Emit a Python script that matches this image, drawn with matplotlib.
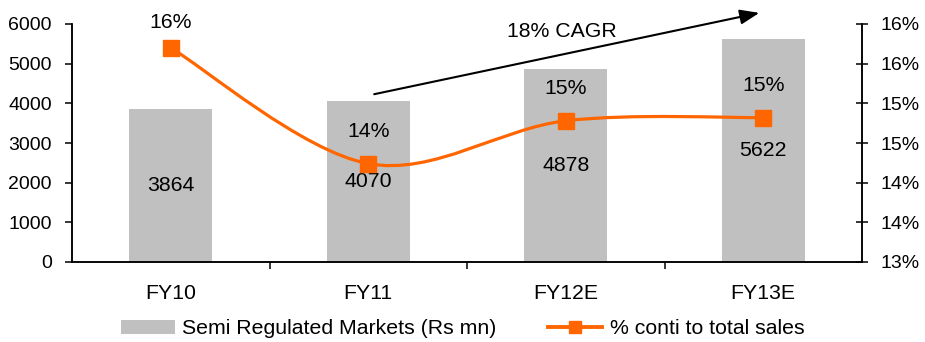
import matplotlib
matplotlib.use("Agg")
import matplotlib.pyplot as plt
from matplotlib.path import Path
from matplotlib.patches import PathPatch, Patch
from matplotlib.lines import Line2D
import numpy as np

plt.rcParams['font.family'] = ['Liberation Sans', 'DejaVu Sans']

categories = ["FY10", "FY11", "FY12E", "FY13E"]
market_values = [3864, 4070, 4878, 5622]
pct_values = [15.70, 14.24, 14.78, 14.82]
pct_labels = ["16%", "14%", "15%", "15%"]
left_ticks = [0, 1000, 2000, 3000, 4000, 5000, 6000]
right_ticks = [13.0, 13.5, 14.0, 14.5, 15.0, 15.5, 16.0]
right_tick_labels = ["13%", "14%", "14%", "15%", "15%", "16%", "16%"]
bar_label = "Semi Regulated Markets (Rs mn)"
line_label = "% conti to total sales"
cagr_text = "18% CAGR"

BAR = "#C0C0C0"
ORANGE = "#FF6600"
FS = 15.3
FS_Y = 14

fig = plt.figure(figsize=(9.25, 3.42), dpi=100)
ax = fig.add_axes([72/925, 1-262/342, (862-72)/925, (262-24)/342])
ax2 = ax.twinx()

x = np.arange(len(categories))
ax.bar(x, market_values, width=0.42, color=BAR, zorder=1)
for xi, v in zip(x, market_values):
    ax.text(xi, v/2, f"{v}", ha='center', va='center', fontsize=FS, color='black')

ax.set_xlim(-0.5, len(categories)-0.5)
ax.set_ylim(0, 6000)
ax.set_yticks(left_ticks)
ax.set_yticklabels([str(t) for t in left_ticks], fontsize=FS_Y)
ax.set_xticks(x)
ax.set_xticklabels(categories, fontsize=FS)
ax.tick_params(axis='x', which='major', length=0, pad=15.5)
ax.set_xticks(np.arange(len(categories)-1) + 0.5, minor=True)
ax.tick_params(axis='x', which='minor', length=5, width=1.1, direction='out')
ax.tick_params(axis='y', length=5, width=1.1, direction='out', pad=9.5)

for a in (ax, ax2):
    a.spines['top'].set_visible(False)
    for s in ('left', 'right', 'bottom'):
        a.spines[s].set_linewidth(1.1)

ax2.set_ylim(13, 16)
ax2.set_yticks(right_ticks)
ax2.set_yticklabels(right_tick_labels, fontsize=FS_Y)
ax2.tick_params(axis='y', length=9, width=1.1, direction='inout', pad=8.5)

# Smoothed line (Catmull-Rom to Bezier) through the data points
P = np.column_stack([x, pct_values]).astype(float)
n = len(P)
verts = [tuple(P[0])]
codes = [Path.MOVETO]
for i in range(n-1):
    p0 = P[i-1] if i > 0 else P[i]
    p1 = P[i]
    p2 = P[i+1]
    p3 = P[i+2] if i+2 < n else P[i+1]
    c1 = p1 + (p2 - p0) / 6.0
    c2 = p2 - (p3 - p1) / 6.0
    verts += [tuple(c1), tuple(c2), tuple(p2)]
    codes += [Path.CURVE4]*3
path = Path(verts, codes)
ax2.add_patch(PathPatch(path, facecolor='none', edgecolor=ORANGE, lw=2.3, zorder=3))
ax2.plot(x, pct_values, linestyle='none', marker='s', markersize=11.5,
         color=ORANGE, zorder=4)

# percentage labels above markers, kept inside the plot top like the source
y_lo, y_hi = ax2.get_ylim()
units_per_px = (y_hi - y_lo) / (262 - 24)
for xi, v, lab in zip(x, pct_values, pct_labels):
    ly = min(v + 32.5 * units_per_px, y_hi + 2 * units_per_px)
    ax2.text(xi, ly, lab, ha='center', va='center', fontsize=FS, color='black')

# CAGR arrow
ax.annotate("", xy=(2.98, 6280), xytext=(1.03, 4230),
            arrowprops=dict(arrowstyle='-|>,head_length=0.65,head_width=0.25',
                            color='black', lw=1.5,
                            mutation_scale=18, shrinkA=0, shrinkB=0),
            annotation_clip=False)
ax.text(1.98, 5800, cagr_text, ha='center', va='center', fontsize=FS)

handles = [Patch(facecolor=BAR, edgecolor='none'),
           Line2D([], [], color=ORANGE, lw=2.8, marker='s', markersize=9)]
fig.legend(handles, [bar_label, line_label], loc='center',
           bbox_to_anchor=(0.5, 1-329/342), ncol=2, frameon=False,
           fontsize=FS, handlelength=2.55, handletextpad=0.35,
           columnspacing=2.4, handleheight=0.65)

fig.savefig("out.png", dpi=100)
